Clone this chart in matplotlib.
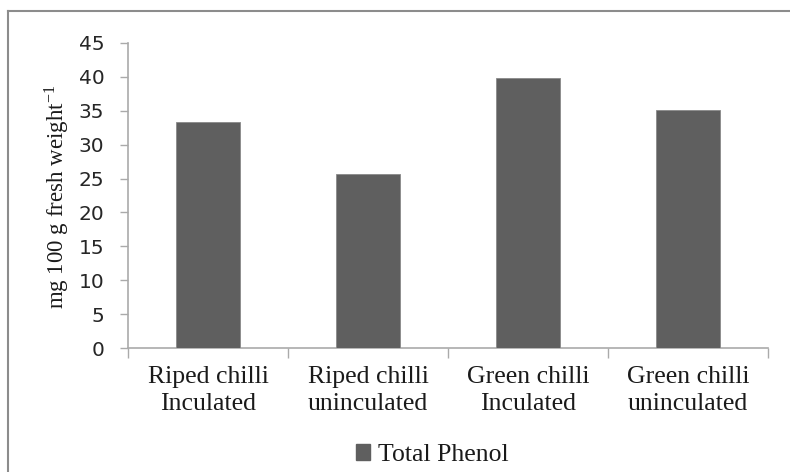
import matplotlib
matplotlib.use("Agg")
import matplotlib.pyplot as plt
from matplotlib.patches import Patch
from matplotlib.lines import Line2D
import numpy as np

categories = ["Riped chilli\nInculated", "Riped chilli\nuninculated",
              "Green chilli\nInculated", "Green chilli\nuninculated"]
total_phenol = [33.3, 25.6, 39.8, 35.1]
yticks = [0, 5, 10, 15, 20, 25, 30, 35, 40, 45]
series_name = "Total Phenol"
ylabel = "mg 100 g fresh weight$^{\\mathregular{-1}}$"

plt.rcParams['mathtext.fontset'] = 'stix'
serif = ['Liberation Serif', 'DejaVu Serif']

fig = plt.figure(figsize=(7.9, 4.72), dpi=100)
ax = fig.add_axes([128/790, 1-348/472, 640/790, 305/472])

x = np.arange(len(categories))
ax.bar(x, total_phenol, width=0.4, color='#5f5f5f', edgecolor='#8a8a8a', linewidth=0.6, zorder=3)
ax.set_xlim(-0.5, len(categories) - 0.5)
ax.set_ylim(0, 45)
ax.set_yticks(yticks)
ax.set_yticklabels([str(v) for v in yticks], fontsize=14.5, family='DejaVu Sans', color='#262626')

ax.set_xticks(np.arange(len(categories) + 1) - 0.5, minor=False)
ax.set_xticklabels([])
ax.set_xticks(x, minor=True)
ax.set_xticklabels(categories, minor=True, fontsize=18.5, family=serif, color='#1a1a1a', linespacing=1.32)
ax.tick_params(axis='x', which='major', length=7, width=1, color='#aaaaaa', direction='out')
ax.tick_params(axis='x', which='minor', length=0, pad=13)
ax.tick_params(axis='y', length=6, width=1, color='#aaaaaa', direction='out', pad=11)

for s in ['top', 'right']:
    ax.spines[s].set_visible(False)
for s in ['left', 'bottom']:
    ax.spines[s].set_color('#aaaaaa')
    ax.spines[s].set_linewidth(1.2)

fig.text(57/790, 1-197/472, ylabel, rotation=90, ha='center', va='center',
         fontsize=16.5, family=serif, color='#1a1a1a')

handles = [Patch(facecolor='#5f5f5f', edgecolor='#5f5f5f', label=series_name)]
leg = fig.legend(handles=handles, loc='center', bbox_to_anchor=(432/790, 1-455/472),
                 frameon=False, prop={'family': serif, 'size': 18.5},
                 handlelength=0.55, handleheight=0.55, handletextpad=0.3)
for t in leg.get_texts():
    t.set_color('#1a1a1a')

# outer chart frame (left and top edges visible)
fig.add_artist(Line2D([8/790, 8/790], [0, 1-11/472], transform=fig.transFigure, color='#8c8c8c', lw=1.5))
fig.add_artist(Line2D([8/790, 1], [1-11/472, 1-11/472], transform=fig.transFigure, color='#8c8c8c', lw=1.5))

fig.savefig("out.png", dpi=100)
